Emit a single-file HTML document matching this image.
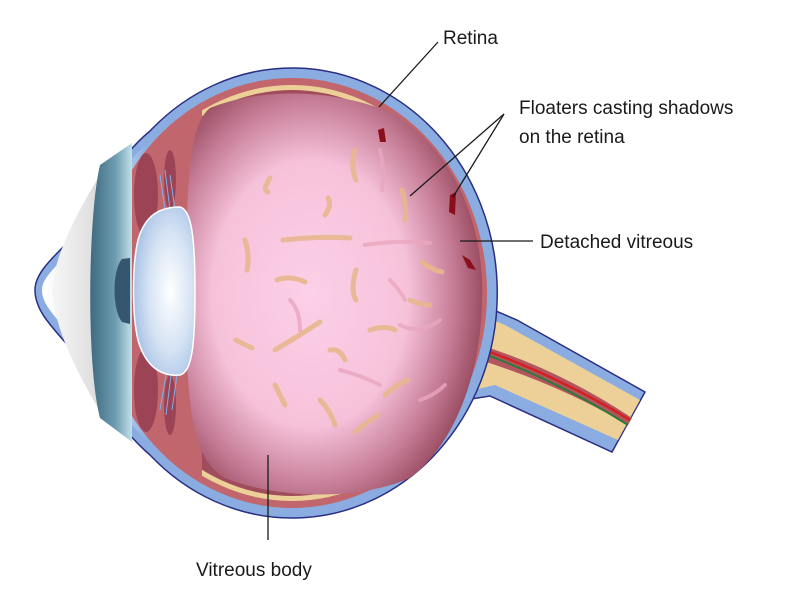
<!DOCTYPE html>
<html><head><meta charset="utf-8"><style>
html,body{margin:0;padding:0;background:#fff;}
svg{display:block;}
text{font-family:"Liberation Sans",sans-serif;font-size:19px;fill:#1a1a1a;}
</style></head><body>
<svg width="800" height="592" viewBox="0 0 800 592" xmlns="http://www.w3.org/2000/svg">
<defs>
<radialGradient id="vit" cx="0.42" cy="0.5" r="0.6">
<stop offset="0" stop-color="#fcd0e8"/>
<stop offset="0.55" stop-color="#f6c2da"/>
<stop offset="0.8" stop-color="#c77e98"/>
<stop offset="1" stop-color="#94465a"/>
</radialGradient>
<radialGradient id="lens" cx="0.6" cy="0.5" r="0.6">
<stop offset="0" stop-color="#ffffff"/>
<stop offset="0.6" stop-color="#d4e2f3"/>
<stop offset="1" stop-color="#a9c3e6"/>
</radialGradient>
<linearGradient id="corneaOut" x1="0" x2="1">
<stop offset="0" stop-color="#ffffff"/>
<stop offset="0.6" stop-color="#dce6f6"/>
<stop offset="1" stop-color="#8aace0"/>
</linearGradient>
<linearGradient id="cornea" x1="0" x2="1">
<stop offset="0" stop-color="#f6f6f6"/>
<stop offset="1" stop-color="#dcdcdc"/>
</linearGradient>
<linearGradient id="iris" x1="0" x2="1">
<stop offset="0" stop-color="#3f6a80"/>
<stop offset="0.6" stop-color="#6d9bb0"/>
<stop offset="1" stop-color="#c2e0e8"/>
</linearGradient>
<clipPath id="eyeclip"><ellipse cx="292" cy="293" rx="195" ry="215"/></clipPath>
</defs>

<!-- optic nerve -->
<path d="M470,300 L517,320 L645,392 L612,452 L490,396 L465,400 Z" fill="#8aace0" stroke="#2a2f85" stroke-width="1.5"/>
<path d="M470,310 L505,325 L640,400 L618,440 L495,385 L465,392 Z" fill="#edd098"/>
<path d="M480,345 Q560,370 632,418 L628,425 Q560,385 480,360 Z" fill="#b2555f"/>
<path d="M490,352 Q565,380 630,420" stroke="#d42020" stroke-width="2.5" fill="none"/>
<path d="M490,356 Q565,385 628,425" stroke="#2a7a3a" stroke-width="2" fill="none"/>

<!-- outer silhouette -->
<path d="M150,131 A205,225 0 1,1 150,455 C115,425 95,385 72,350 C50,325 35,310 35,290 C35,275 48,262 68,242 C92,212 112,162 150,131 Z" fill="#8aace0" stroke="#2a2f85" stroke-width="1.5"/>
<!-- light cornea band -->
<path d="M148,143 C115,170 100,215 75,245 C55,268 42,278 42,290 C42,305 56,318 78,342 C102,372 118,415 148,442 Z" fill="url(#corneaOut)"/>

<ellipse cx="292" cy="293" rx="195" ry="215" fill="#c0666c"/>
<ellipse cx="292" cy="293" rx="188" ry="208" fill="#edd098"/>
<ellipse cx="292" cy="293" rx="183" ry="203" fill="#a14c5c"/>
<g clip-path="url(#eyeclip)">
<rect x="80" y="60" width="122" height="470" fill="#c0666c"/>
</g>
<!-- grey cornea -->
<path d="M98,178 C78,212 55,252 52,290 C55,330 76,370 98,408 Z" fill="url(#cornea)"/>
<!-- iris/teal -->
<path d="M100,165 C88,215 86,365 100,418 L132,442 L132,143 Z" fill="url(#iris)"/>

<!-- ciliary -->
<ellipse cx="146" cy="195" rx="12" ry="42" fill="#9c4356"/>
<ellipse cx="146" cy="390" rx="12" ry="42" fill="#9c4356"/>
<ellipse cx="170" cy="180" rx="6" ry="30" fill="#9c4356"/>
<ellipse cx="170" cy="405" rx="6" ry="30" fill="#9c4356"/>
<g stroke="#7fb0e6" stroke-width="1" fill="none">
<path d="M160,175 L165,210 M165,170 L170,210 M170,175 L175,210"/>
<path d="M160,410 L166,375 M166,415 L171,375 M172,410 L177,375"/>
</g>

<!-- vitreous -->
<path d="M210,108 C260,88 330,88 390,112 C440,140 478,200 482,280 C485,360 460,440 410,478 C360,500 280,500 225,478 C195,460 186,420 186,300 C186,190 188,125 210,108 Z" fill="url(#vit)"/>

<!-- lens -->
<path d="M138,240 C145,215 160,207 180,207 C192,210 195,240 195,292 C195,345 192,372 180,375 C160,377 145,365 138,340 C132,315 132,265 138,240 Z" fill="url(#lens)" stroke="#ffffff" stroke-width="1.5"/>
<path d="M122,259 L130,258 L130,324 L122,322 C112,310 112,270 122,259 Z" fill="#34566e"/>

<!-- floaters -->
<g stroke="#e8b78e" stroke-width="5" fill="none" stroke-linecap="round" opacity="0.9">
<path d="M270,178 Q262,190 268,192"/>
<path d="M355,150 Q350,165 356,180"/>
<path d="M245,240 Q250,255 247,270"/>
<path d="M283,240 Q320,236 350,238"/>
<path d="M277,280 Q290,275 305,282"/>
<path d="M325,215 Q332,205 328,198"/>
<path d="M356,270 Q350,290 356,300"/>
<path d="M275,350 Q300,335 320,322"/>
<path d="M236,340 Q245,345 252,348"/>
<path d="M330,350 Q340,348 345,360"/>
<path d="M370,330 Q385,325 395,330"/>
<path d="M422,262 Q432,270 442,272"/>
<path d="M402,190 Q407,205 405,220"/>
<path d="M410,300 Q420,305 430,305"/>
<path d="M320,400 Q330,410 335,425"/>
<path d="M355,432 Q370,420 378,415"/>
<path d="M385,395 Q395,385 408,380"/>
<path d="M275,385 Q280,395 285,405"/>
</g>
<g stroke="#e9a7bf" stroke-width="4" fill="none" stroke-linecap="round" opacity="0.8">
<path d="M365,245 Q395,240 430,243"/>
<path d="M290,300 Q300,310 300,330"/>
<path d="M390,280 Q400,290 405,300"/>
<path d="M400,325 Q420,335 440,320"/>
<path d="M340,370 Q360,375 380,385"/>
<path d="M420,400 Q435,395 445,385"/>
<path d="M380,150 Q385,170 382,190"/>
</g>
<g fill="#8b0f1a">
<path d="M378,130 L384,128 L386,142 L380,142 Z"/>
<path d="M450,195 L456,192 L455,215 L449,212 Z"/>
<path d="M462,255 L470,260 L476,270 L468,268 Z"/>
</g>

<!-- leader lines -->
<g stroke="#1a1a1a" stroke-width="1.3">
<line x1="438" y1="42" x2="379" y2="107"/>
<line x1="504" y1="114" x2="410" y2="196"/>
<line x1="504" y1="114" x2="453" y2="197"/>
<line x1="460" y1="241" x2="533" y2="241"/>
<line x1="268" y1="455" x2="268" y2="540"/>
</g>

<text x="443" y="44">Retina</text>
<text x="519" y="114">Floaters casting shadows</text>
<text x="519" y="143">on the retina</text>
<text x="540" y="248">Detached vitreous</text>
<text x="196" y="576">Vitreous body</text>
</svg>
</body></html>
